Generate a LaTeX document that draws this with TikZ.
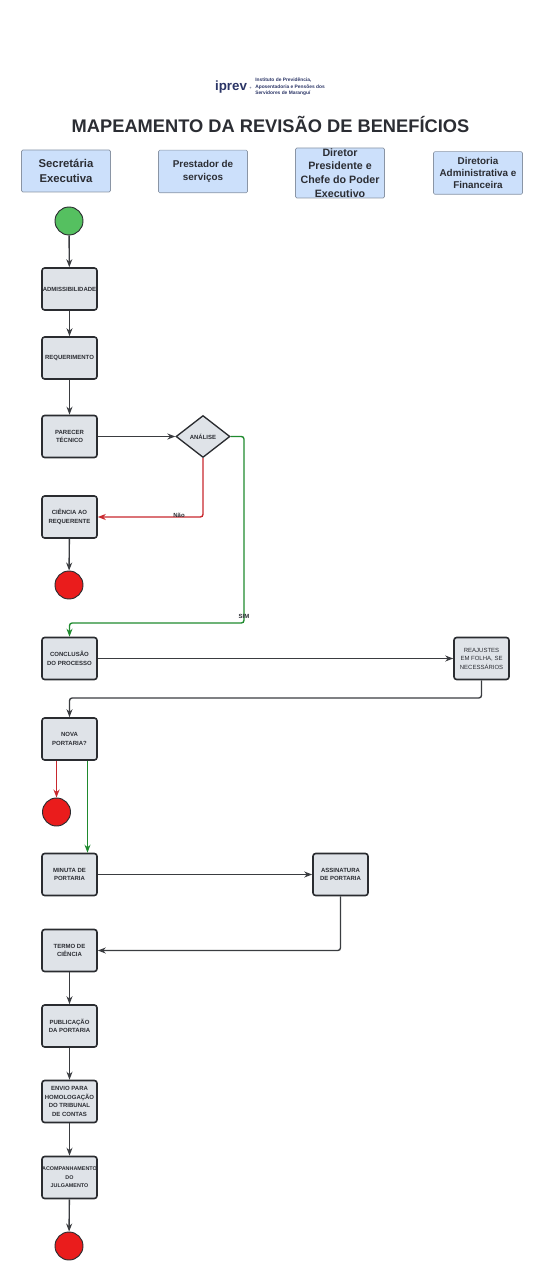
\documentclass[tikz,border=0pt]{standalone}
\usepackage{fontspec}
\setmainfont{Liberation Sans}
\usetikzlibrary{arrows.meta,shapes.geometric}
\definecolor{hdrfill}{HTML}{CCE0FB}
\definecolor{hdrline}{HTML}{8A95A5}
\definecolor{boxfill}{HTML}{DFE3E8}
\definecolor{boxline}{HTML}{2A2C30}
\definecolor{wire}{HTML}{3A3C40}
\definecolor{txt}{HTML}{2B2D33}
\definecolor{gogreen}{HTML}{55C060}
\definecolor{stopred}{HTML}{EA1C1C}
\definecolor{linkred}{HTML}{C8282E}
\definecolor{linkgreen}{HTML}{1F8A2E}
\definecolor{navy}{HTML}{2B3566}
\tikzset{
  x=0.75pt,y=-0.75pt,
  hdr/.style={draw=hdrline,line width=0.5pt,fill=hdrfill,rounded corners=1pt,minimum width=66.75pt,align=center,text=txt,inner sep=0pt,font=\bfseries},
  stepbox/.style={draw=boxline,line width=1.2pt,fill=boxfill,rounded corners=2pt,minimum width=41.25pt,minimum height=31.5pt,inner sep=0pt,align=center,text=txt,font=\bfseries\fontsize{4.5}{6.4}\selectfont},
  dec/.style={diamond,aspect=1.28,draw=boxline,line width=1pt,fill=boxfill,minimum width=40.5pt,minimum height=31.5pt,inner sep=0pt,text=txt,font=\bfseries\fontsize{4.5}{6}\selectfont},
  term/.style={circle,draw=boxline,line width=0.7pt,minimum size=21pt,inner sep=0pt},
  link/.style={draw=wire,line width=1.05pt,rounded corners=2pt,-{Stealth[length=6pt,width=4.5pt]}},
  nolink/.style={link,draw=linkred},
  yeslink/.style={link,draw=linkgreen},
  lab/.style={font=\bfseries\fontsize{4.5}{6}\selectfont,text=txt,inner sep=0.5pt}
}
\begin{document}
\begin{tikzpicture}
\useasboundingbox (0,0) rectangle (543,1280);
% logo
\node[font=\bfseries\fontsize{10}{10}\selectfont,text=navy,inner sep=0pt] (logoA) at (231,87) {iprev};
\node[font=\bfseries\fontsize{3.65}{5}\selectfont,text=navy,align=left,inner sep=0pt,anchor=west] (logoB) at (255,87) {Instituto de Previdência,\\Aposentadoria e Pensões dos\\Servidores de Maranguí};
\node[text=navy,inner sep=0pt,font=\fontsize{3}{3}\selectfont] (logoC) at (250.5,88.5) {+};
% title
\node[font=\bfseries\fontsize{13.7}{16}\selectfont,text=txt,inner sep=0pt] (title) at (270.5,124.5) {MAPEAMENTO DA REVISÃO DE BENEFÍCIOS};
% headers
\node[hdr,minimum height=31.5pt,font=\bfseries\fontsize{8.5}{11}\selectfont] (h1) at (66,171) {Secretária\\Executiva};
\node[hdr,minimum height=32pt,font=\bfseries\fontsize{7.4}{9.6}\selectfont] (h2) at (203,171.5) {Prestador de\\serviços};
\node[hdr,minimum height=37.5pt,font=\bfseries\fontsize{8}{10.3}\selectfont] (h3) at (340,173) {Diretor\\Presidente e\\Chefe do Poder\\Executivo};
\node[hdr,minimum height=32pt,font=\bfseries\fontsize{7.4}{9.3}\selectfont] (h4) at (478,173) {Diretoria\\Administrativa e\\Financeira};
% flow nodes
\node[term,fill=gogreen] (start) at (69,221) {};
\node[stepbox] (adm) at (69.5,289) {ADMISSIBILIDADE};
\node[stepbox] (req) at (69.5,358) {REQUERIMENTO};
\node[stepbox] (par) at (69.5,436.5) {PARECER\\TÉCNICO};
\node[dec] (ana) at (203,436.5) {ANÁLISE};
\node[stepbox] (cie) at (69.5,517) {CIÊNCIA AO\\REQUERENTE};
\node[term,fill=stopred] (end1) at (69,585) {};
\node[stepbox] (con) at (69.5,658.5) {CONCLUSÃO\\DO PROCESSO};
\node[stepbox,font=\fontsize{4.5}{6.4}\selectfont] (rea) at (481.5,658.5) {REAJUSTES\\EM FOLHA, SE\\NECESSÁRIOS};
\node[stepbox] (nov) at (69.5,739) {NOVA\\PORTARIA?};
\node[term,fill=stopred] (end2) at (56.5,812) {};
\node[stepbox] (min) at (69.5,874.5) {MINUTA DE\\PORTARIA};
\node[stepbox] (ass) at (340.5,874.5) {ASSINATURA\\DE PORTARIA};
\node[stepbox] (ter) at (69.5,950.5) {TERMO DE\\CIÊNCIA};
\node[stepbox] (pub) at (69.5,1026) {PUBLICAÇÃO\\DA PORTARIA};
\node[stepbox] (env) at (69.5,1101.5) {ENVIO PARA\\HOMOLOGAÇÃO\\DO TRIBUNAL\\DE CONTAS};
\node[stepbox,font=\bfseries\fontsize{4.05}{6.4}\selectfont] (aco) at (69.5,1177.5) {ACOMPANHAMENTO\\DO\\JULGAMENTO};
\node[term,fill=stopred] (end3) at (69,1246) {};
% connectors
\draw[link] (start) -- (adm);
\draw[link] (adm) -- (req);
\draw[link] (req) -- (par);
\draw[link] (par) -- (ana);
\draw[nolink] (ana.south) |- (cie.east);
\draw[link] (cie) -- (end1);
\draw[yeslink] (ana.east) -- (244,436.5) -- (244,623) -- (69.5,623) -- (con.north);
\draw[link] (con) -- (rea);
\draw[link] (rea.south) -- (481.5,698) -- (69.5,698) -- (nov.north);
\draw[nolink] (nov.south -| end2) -- (end2);
\draw[yeslink] ([xshift=13.5pt]nov.south) -- ([xshift=13.5pt]min.north);
\draw[link] (min) -- (ass);
\draw[link] (ass.south) |- (ter.east);
\draw[link] (ter) -- (pub);
\draw[link] (pub) -- (env);
\draw[link] (env) -- (aco);
\draw[link] (aco) -- (end3);
% labels
\node[lab] (lno) at (179,515.5) {Não};
\node[lab] (lyes) at (244,616) {SIM};
\end{tikzpicture}
\end{document}
